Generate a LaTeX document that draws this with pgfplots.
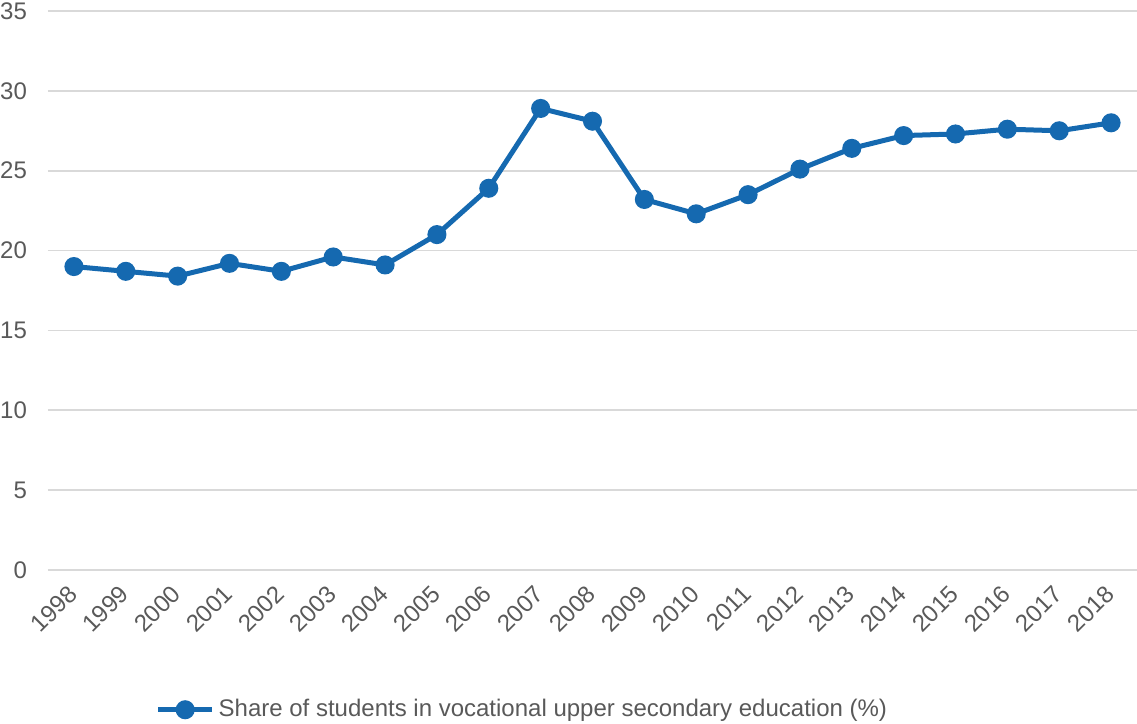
\documentclass[border=0pt]{standalone}
\usepackage{pgfplots}
\pgfplotsset{compat=1.18}
\usepackage{fontspec}
\setmainfont{Liberation Sans}
\definecolor{lineblue}{RGB}{21,105,176}
\definecolor{gridgray}{RGB}{217,217,217}
\definecolor{txtgray}{RGB}{89,89,89}
\begin{document}
\begin{tikzpicture}
\useasboundingbox (-24pt,-77pt) rectangle (544.5pt,285pt);
\begin{axis}[
  at={(0,0)}, anchor=south west,
  scale only axis, width=544.5pt, height=279.5pt,
  xmin=-0.5, xmax=20.5, ymin=0, ymax=35,
  ytick={0,5,...,35},
  xtick={0,...,20},
  xticklabels={1998,1999,2000,2001,2002,2003,2004,2005,2006,2007,2008,2009,2010,2011,2012,2013,2014,2015,2016,2017,2018},
  axis line style={draw=none},
  major tick length=0pt,
  ymajorgrids, grid style={gridgray, line width=0.9pt},
  tick label style={font=\fontsize{12}{14}\selectfont, text=txtgray},
  /pgf/number format/assume math mode=true,
  yticklabel style={anchor=east, xshift=-7pt},
  xticklabel style={rotate=45, anchor=east, xshift=-4pt, yshift=-6.6pt},
  legend style={draw=none, fill=none, at={(0.093,-0.25)}, anchor=west,
    font=\fontsize{12}{14}\selectfont, text=txtgray},
  legend cell align=left,
  legend image code/.code={
    \draw[lineblue, line width=2.5pt] (0pt,0pt) -- (27pt,0pt);
    \fill[lineblue] (13.5pt,0pt) circle (3.5pt);
  },
  clip=false,
]
\addplot[lineblue, line width=2.5pt, mark=*, mark size=3.5pt, mark options={fill=lineblue, draw=lineblue}]
coordinates {
(0,19.0) (1,18.7) (2,18.4) (3,19.2) (4,18.7) (5,19.6) (6,19.1) (7,21.0) (8,23.9) (9,28.9) (10,28.1)
(11,23.2) (12,22.3) (13,23.5) (14,25.1) (15,26.4) (16,27.2) (17,27.3) (18,27.6) (19,27.5) (20,28.0)
};
\addlegendentry{Share of students in vocational upper secondary education (\%)}
\end{axis}
\end{tikzpicture}
\end{document}
